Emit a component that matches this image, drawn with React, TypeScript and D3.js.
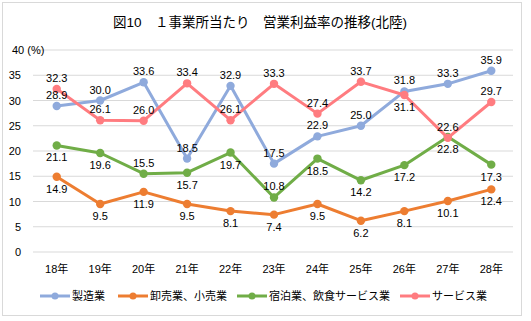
import React from "react";
import * as d3 from "d3";

const categories = ["18年", "19年", "20年", "21年", "22年", "23年", "24年", "25年", "26年", "27年", "28年"];
const seriesNames = ["製造業", "卸売業、小売業", "宿泊業、飲食サービス業", "サービス業"];
const manufacturing = [28.9, 30.0, 33.6, 18.5, 32.9, 17.5, 22.9, 25.0, 31.8, 33.3, 35.9];
const wholesale = [14.9, 9.5, 11.9, 9.5, 8.1, 7.4, 9.5, 6.2, 8.1, 10.1, 12.4];
const accommodation = [21.1, 19.6, 15.5, 15.7, 19.7, 10.8, 18.5, 14.2, 17.2, 22.8, 17.3];
const services = [32.3, 26.1, 26.0, 33.4, 26.1, 33.3, 27.4, 33.7, 31.1, 22.6, 29.7];
// label placement: 1 = above, -1 = below
const manufacturingPos = [1, 1, 1, 1, 1, 1, 1, 1, 1, 1, 1];
const wholesalePos = [-1, -1, -1, -1, -1, -1, -1, -1, -1, -1, -1];
const accommodationPos = [-1, -1, 1, -1, -1, 1, -1, -1, -1, -1, -1];
const servicesPos = [1, 1, 1, 1, 1, 1, 1, 1, -1, 1, 1];
const yTicks = [0, 5, 10, 15, 20, 25, 30, 35, 40];
const colors = ["#8FAADC", "#ED7D31", "#70AD47", "#FF7C80"];

const FONT = "'Liberation Sans', 'Noto Sans CJK JP', sans-serif";

export default function App() {
  const W = 531, H = 321;
  const x = d3.scaleBand().domain(categories).range([35, 513]);
  const y = d3.scaleLinear().domain([0, 40]).range([252, 50]);
  const cx = (c: string) => (x(c) as number) + x.bandwidth() / 2;
  const line = d3.line<number>().x((_, i) => cx(categories[i])).y((v) => y(v));

  const series = [
    { name: seriesNames[0], values: manufacturing, pos: manufacturingPos, color: colors[0] },
    { name: seriesNames[1], values: wholesale, pos: wholesalePos, color: colors[1] },
    { name: seriesNames[2], values: accommodation, pos: accommodationPos, color: colors[2] },
    { name: seriesNames[3], values: services, pos: servicesPos, color: colors[3] },
  ];

  const legendX = [40, 118, 237, 400];

  return (
    <svg width={W} height={H} style={{ position: "absolute", left: 0, top: 0, fontFamily: FONT }}>
      <rect x={0} y={0} width={W} height={H} fill="#fff" />
      <rect x={2.5} y={2.5} width={519} height={313} fill="#fff" stroke="#d9d9d9" />
      <text x={260} y={27} textAnchor="middle" fontSize={13.5} fill="#000">
        図10　１事業所当たり　営業利益率の推移(北陸)
      </text>
      {yTicks.map((t) => (
        <g key={t}>
          <line x1={33} x2={513} y1={y(t)} y2={y(t)} stroke="#d9d9d9" strokeWidth={1} />
          <text x={t === 40 ? 12 : 21} y={y(t) + 4} textAnchor={t === 40 ? "start" : "end"} fontSize={11} fill="#000">
            {t === 40 ? "40 (%)" : t}
          </text>
        </g>
      ))}
      {categories.map((c) => (
        <text key={c} x={cx(c)} y={273} textAnchor="middle" fontSize={11} fill="#000">
          {c}
        </text>
      ))}
      {series.map((s) => (
        <g key={s.name}>
          <path d={line(s.values) || ""} fill="none" stroke={s.color} strokeWidth={3} strokeLinejoin="round" />
          {s.values.map((v, i) => (
            <circle key={i} cx={cx(categories[i])} cy={y(v)} r={4.2} fill={s.color} />
          ))}
        </g>
      ))}
      {series.map((s) => (
        <g key={s.name + "l"}>
          {s.values.map((v, i) => (
            <text
              key={i}
              x={cx(categories[i])}
              y={s.pos[i] > 0 ? y(v) - 7 : y(v) + 16}
              textAnchor="middle"
              fontSize={11}
              fill="#000"
            >
              {v.toFixed(1)}
            </text>
          ))}
        </g>
      ))}
      {series.map((s, i) => (
        <g key={s.name + "g"} transform={`translate(${legendX[i]},296)`}>
          <line x1={0} x2={30} y1={0} y2={0} stroke={s.color} strokeWidth={3} />
          <circle cx={15} cy={0} r={3.5} fill={s.color} />
          <text x={32} y={4} fontSize={11} fill="#000">
            {s.name}
          </text>
        </g>
      ))}
    </svg>
  );
}
